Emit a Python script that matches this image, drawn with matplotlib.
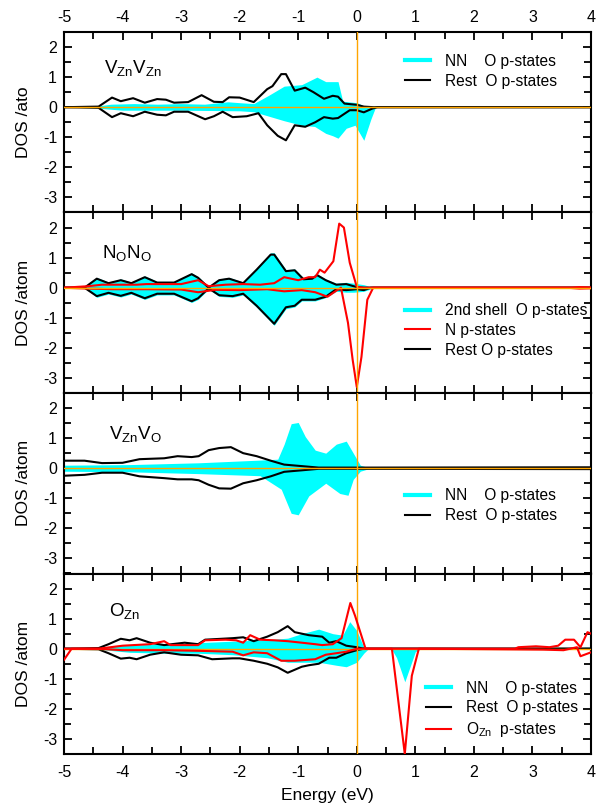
import matplotlib
matplotlib.use("Agg")
import matplotlib.pyplot as plt
from matplotlib.lines import Line2D
from matplotlib.ticker import MultipleLocator

plt.rcParams['font.family'] = ['Liberation Sans', 'DejaVu Sans']
plt.rcParams['mathtext.default'] = 'regular'
plt.rcParams['axes.unicode_minus'] = False

CYAN = '#00FFFF'
RED = '#FF0000'
ORANGE = '#FFA500'

# ---------------- panel 1 : VZn VZn ----------------
p1_nn_e_up = [-5, -4.5, -4.2, -3.8, -3.4, -3.0, -2.6, -2.2, -2.0, -1.76, -1.5, -1.24, -0.94,
              -0.68, -0.53, -0.32, -0.24, 0.0, 0.12, 0.25, 4]
p1_nn_up = [0, 0.02, 0.1, 0.12, 0.1, 0.12, 0.1, 0.18, 0.15, 0.12, 0.4, 0.7, 0.75,
            1.0, 0.85, 0.85, 0.2, 0.15, 0.05, 0, 0]
p1_nn_e_dn = [-5, -4.5, -4.0, -3.0, -2.0, -1.76, -1.5, -1.24, -0.94, -0.72, -0.53, -0.41,
              -0.32, -0.18, -0.03, 0.12, 0.24, 0.32, 4]
p1_nn_dn = [0, -0.02, -0.1, -0.1, -0.12, -0.15, -0.3, -0.45, -0.6, -0.64, -0.87, -0.95,
            -1.03, -0.7, -0.6, -1.1, -0.4, 0, 0]
p1_rest_e_up = [-5, -4.41, -4.18, -4.03, -3.82, -3.62, -3.41, -3.26, -3.12, -2.88, -2.65, -2.44,
                -2.29, -2.18, -2.0, -1.76, -1.53, -1.44, -1.29, -1.21, -1.06, -0.88, -0.74,
                -0.56, -0.41, -0.32, -0.21, 0.0, 0.12, 0.29, 4]
p1_rest_up = [0, 0.02, 0.32, 0.2, 0.3, 0.15, 0.27, 0.25, 0.15, 0.17, 0.4, 0.18,
              0.17, 0.33, 0.32, 0.17, 0.6, 0.7, 1.1, 1.1, 0.55, 0.65, 0.5,
              0.28, 0.38, 0.35, 0.12, 0.08, 0.02, 0, 0]
p1_rest_e_dn = [-5, -4.41, -4.18, -4.03, -3.82, -3.62, -3.41, -3.26, -3.12, -2.88, -2.59, -2.44,
                -2.29, -2.12, -1.88, -1.68, -1.53, -1.35, -1.21, -1.06, -0.88, -0.71, -0.56,
                -0.41, -0.32, -0.12, 0.0, 0.12, 0.26, 0.35, 4]
p1_rest_dn = [0, -0.02, -0.33, -0.2, -0.3, -0.15, -0.25, -0.27, -0.15, -0.15, -0.4, -0.3,
              -0.15, -0.33, -0.3, -0.2, -0.6, -0.95, -1.1, -0.6, -0.65, -0.5, -0.33,
              -0.38, -0.36, -0.1, -0.1, -0.17, -0.05, 0, 0]

# ---------------- panel 2 : NO NO ----------------
p2_rest_e_up = [-5, -4.65, -4.44, -4.24, -4.03, -3.85, -3.62, -3.41, -3.12, -2.82, -2.71, -2.53,
                -2.35, -2.18, -1.94, -1.71, -1.47, -1.41, -1.21, -1.06, -0.91, -0.76, -0.68,
                -0.53, -0.35, -0.18, 0.0, 0.12, 4]
p2_rest_up = [0, 0, 0.3, 0.15, 0.25, 0.15, 0.35, 0.17, 0.17, 0.45, 0.33, 0.0,
              0.25, 0.3, 0.15, 0.6, 1.1, 1.1, 0.55, 0.58, 0.28, 0.3, 0.42,
              0.25, 0.1, 0.12, 0.02, 0, 0]
p2_rest_e_dn = [-5, -4.65, -4.44, -4.24, -4.03, -3.85, -3.62, -3.41, -3.12, -2.82, -2.71, -2.53,
                -2.35, -2.12, -1.94, -1.71, -1.41, -1.21, -1.06, -0.94, -0.71, -0.53, -0.35,
                -0.18, 0.0, 0.12, 0.24, 4]
p2_rest_dn = [0, 0, -0.28, -0.17, -0.27, -0.17, -0.35, -0.2, -0.2, -0.45, -0.35, -0.02,
              -0.25, -0.28, -0.2, -0.6, -1.2, -0.65, -0.6, -0.4, -0.4, -0.3, -0.05,
              -0.08, -0.05, -0.08, 0, 0]
p2_shell_e_up = [-5, -4.65, -4.44, -4.24, -4.03, -3.85, -3.62, -3.41, -3.12, -2.82, -2.71, -2.53,
                 -2.35, -2.18, -1.94, -1.71, -1.47, -1.41, -1.21, -1.06, -0.91, -0.76, -0.68,
                 -0.53, -0.35, -0.18, -0.05, 0.12, 0.3, 4]
p2_shell_up = [0, 0, 0.34, 0.19, 0.29, 0.19, 0.39, 0.21, 0.21, 0.49, 0.37, 0.04,
               0.29, 0.34, 0.19, 0.65, 1.16, 1.16, 0.6, 0.62, 0.33, 0.34, 0.46,
               0.29, 0.15, 0.18, 0.15, 0.1, 0, 0]
p2_shell_e_dn = [-5, -4.65, -4.44, -4.24, -4.03, -3.85, -3.62, -3.41, -3.12, -2.82, -2.71, -2.53,
                 -2.35, -2.12, -1.94, -1.71, -1.41, -1.21, -1.06, -0.94, -0.71, -0.53, -0.35,
                 -0.18, -0.05, 0.12, 0.3, 4]
p2_shell_dn = [0, 0, -0.32, -0.21, -0.31, -0.21, -0.39, -0.24, -0.24, -0.49, -0.39, -0.05,
               -0.29, -0.32, -0.24, -0.65, -1.25, -0.7, -0.64, -0.44, -0.44, -0.33, -0.12,
               -0.15, -0.15, -0.12, 0, 0]
p2_n_e_up = [-5, -4.59, -4.35, -4.06, -3.76, -3.59, -3.29, -3.0, -2.71, -2.53, -2.24, -1.94,
             -1.65, -1.41, -1.24, -1.0, -0.82, -0.71, -0.63, -0.55, -0.4, -0.3, -0.22,
             -0.12, 0.0, 0.12, 3.6, 3.8, 4]
p2_n_up = [0, 0.05, 0.1, 0.1, 0.1, 0.12, 0.12, 0.12, 0.25, 0.05, 0.1, 0.12,
           0.1, 0.15, 0.35, 0.25, 0.35, 0.35, 0.6, 0.5, 0.88, 2.13, 2.0,
           0.83, 0.03, 0, 0, 0.02, 0.01]
p2_n_e_dn = [-5, -4.59, -4.18, -3.59, -3.0, -2.71, -2.41, -2.0, -1.53, -1.24, -0.94, -0.71,
             -0.5, -0.35, -0.27, -0.15, -0.07, 0.0, 0.08, 0.18, 0.28, 3.6, 3.8, 4]
p2_n_dn = [0, -0.03, -0.05, -0.05, -0.06, -0.15, -0.07, -0.08, -0.05, -0.12, -0.08, -0.15,
           -0.3, -0.1, 0.0, -1.17, -2.4, -3.3, -2.3, -0.4, 0, 0, -0.03, -0.02]

# ---------------- panel 3 : VZn VO ----------------
p3_nn_e_up = [-5, -3.88, -2.7, -1.65, -1.35, -1.24, -1.12, -1.0, -0.88, -0.71, -0.53,
              -0.35, -0.18, -0.06, 0.06, 0.2, 4]
p3_nn_up = [0.1, 0.12, 0.18, 0.27, 0.3, 0.8, 1.48, 1.52, 1.05, 0.6, 0.5,
            0.8, 0.9, 0.5, 0.1, 0.02, 0.02]
p3_nn_e_dn = [-5, -3.88, -2.7, -1.65, -1.29, -1.12, -1.0, -0.82, -0.53, -0.29, -0.15,
              -0.06, 0.06, 0.2, 4]
p3_nn_dn = [-0.1, -0.12, -0.18, -0.25, -0.7, -1.5, -1.55, -0.92, -0.5, -0.84, -0.9,
            -0.37, -0.1, -0.02, -0.02]
p3_rest_e = [-5.0, -4.65, -4.35, -4.0, -3.71, -3.29, -3.06, -2.82, -2.7, -2.53, -2.35, -2.15,
             -1.94, -1.71, -1.47, -1.24, -0.94, -0.65, 0.0, 4]
p3_rest_up = [0.25, 0.25, 0.17, 0.18, 0.3, 0.33, 0.4, 0.37, 0.4, 0.6, 0.67, 0.7,
              0.5, 0.4, 0.25, 0.12, 0.07, 0.02, 0.02, 0.03]
p3_rest_dn = [-0.25, -0.22, -0.15, -0.15, -0.27, -0.33, -0.37, -0.37, -0.4, -0.55, -0.67, -0.68,
              -0.5, -0.4, -0.27, -0.12, -0.07, -0.02, -0.02, -0.03]

# ---------------- panel 4 : OZn ----------------
p4_nn_e_up = [-5, -4.41, -4.0, -3.29, -2.71, -2.12, -1.53, -1.18, -0.94, -0.65, -0.41, -0.24,
              -0.12, 0.0, 0.12, 0.2, 3.7, 3.9, 4]
p4_nn_up = [0, 0.02, 0.12, 0.15, 0.2, 0.25, 0.3, 0.35, 0.5, 0.65, 0.5, 0.45,
            0.9, 0.6, 0.05, 0, 0, 0.05, 0.05]
p4_nn_e_dn = [-5, -4.41, -3.88, -3.29, -2.71, -2.12, -1.53, -1.18, -0.94, -0.65, -0.35, -0.18,
              0.0, 0.12, 0.2, 0.59, 0.68, 0.82, 1.0, 1.09, 4]
p4_nn_dn = [0, -0.02, -0.12, -0.15, -0.15, -0.2, -0.3, -0.45, -0.45, -0.45, -0.55, -0.6,
            -0.45, -0.15, 0, 0, -0.3, -1.1, -0.1, 0, 0]
p4_rest_e_up = [-5, -4.41, -4.24, -4.03, -3.88, -3.76, -3.53, -3.29, -2.94, -2.71, -2.59, -2.12,
                -1.94, -1.76, -1.53, -1.35, -1.18, -1.06, -0.82, -0.59, -0.47, -0.35, -0.18,
                0.0, 0.12, 4]
p4_rest_up = [0, 0.02, 0.15, 0.33, 0.28, 0.35, 0.2, 0.12, 0.2, 0.15, 0.3, 0.35,
              0.38, 0.25, 0.4, 0.55, 0.75, 0.55, 0.45, 0.4, 0.2, 0.25, 0.1,
              0.05, 0, 0]
p4_rest_e_dn = [-5, -4.41, -4.24, -4.03, -3.88, -3.76, -3.53, -3.29, -3.0, -2.71, -2.47, -2.12,
                -2.0, -1.76, -1.53, -1.35, -1.18, -0.94, -0.82, -0.65, -0.47, -0.35, -0.18,
                0.0, 0.12, 4]
p4_rest_dn = [0, -0.02, -0.15, -0.33, -0.3, -0.35, -0.2, -0.12, -0.2, -0.22, -0.35, -0.32,
              -0.32, -0.4, -0.5, -0.62, -0.8, -0.6, -0.55, -0.5, -0.3, -0.3, -0.15,
              -0.05, 0, 0]
p4_ozn_e_up = [-5, -4.41, -4.0, -3.53, -3.29, -3.18, -2.71, -2.59, -2.24, -2.06, -1.94, -1.82,
               -1.65, -1.41, -1.18, -0.94, -0.71, -0.59, -0.41, -0.26, -0.11, -0.03, 0.15,
               2.7, 2.76, 3.06, 3.29, 3.44, 3.56, 3.71, 3.82, 3.94, 4.0]
p4_ozn_up = [0, 0, 0.1, 0.15, 0.25, 0.12, 0.12, 0.28, 0.3, 0.28, 0.2, 0.45,
             0.3, 0.28, 0.25, 0.2, 0.15, 0.12, 0.15, 0.35, 1.52, 1.1, 0,
             0, 0.05, 0.08, 0.05, 0.1, 0.3, 0.3, 0.05, 0.55, 0.5]
p4_ozn_e_dn = [-5, -4.87, -4.41, -4.0, -3.29, -2.71, -2.12, -1.94, -1.76, -1.53, -1.29, -1.06,
               -0.71, -0.53, -0.35, -0.18, 0.0, 0.6, 0.82, 0.94, 1.06, 3.18, 3.53, 3.76,
               3.82, 4.0]
p4_ozn_dn = [-0.37, 0, 0, -0.05, -0.05, -0.07, -0.1, -0.22, -0.12, -0.15, -0.4, -0.4,
             -0.35, -0.2, -0.15, -0.1, 0, 0, -3.5, -0.9, 0, -0.03, -0.05, 0.05,
             -0.25, -0.12]

x_ticks = [-5, -4, -3, -2, -1, 0, 1, 2, 3, 4]
y_ticks = [-3, -2, -1, 0, 1, 2]

fig = plt.figure(figsize=(6.01, 8.05), dpi=100)
W, H = 601, 805
left_px, right_px, top_px, panel_px = 64, 591, 32, 180.5

axes = []
for i in range(4):
    y_top = top_px + panel_px * i
    ax = fig.add_axes([left_px / W, 1 - (y_top + panel_px) / H,
                       (right_px - left_px) / W, panel_px / H])
    ax.set_xlim(-5, 4)
    ax.set_ylim(-3.5, 2.5)
    ax.set_xticks(x_ticks)
    ax.set_yticks(y_ticks)
    ax.xaxis.set_minor_locator(MultipleLocator(0.5))
    ax.yaxis.set_minor_locator(MultipleLocator(0.5))
    ax.tick_params(which='both', direction='in', top=True, right=True,
                   width=1.3, labelsize=11.5)
    ax.tick_params(axis='y', pad=5)
    ax.tick_params(axis='x', pad=(5 if i == 0 else 8),
                   labelbottom=(i == 3), labeltop=(i == 0))
    ax.tick_params(which='major', length=6)
    ax.tick_params(which='minor', length=5)
    for s in ax.spines.values():
        s.set_linewidth(1.5)
    ax.axvline(0, color=ORANGE, lw=1, zorder=4)
    ax.axhline(0, color=ORANGE, lw=1, zorder=4)
    ax.set_ylabel('DOS /atom' if i else 'DOS /ato', fontsize=12.5)
    ax.yaxis.set_label_coords(-0.062, 0.5)
    axes.append(ax)

lw = 1.5
h_nn = Line2D([], [], color=CYAN, lw=3)
h_rest = Line2D([], [], color='black', lw=lw)
h_red = Line2D([], [], color=RED, lw=lw)
leg_kw = dict(frameon=False, fontsize=11.2, borderpad=0, borderaxespad=0,
              handlelength=1.6, handletextpad=1.0, labelspacing=0.3)

# panel 1
ax = axes[0]
ax.fill_between(p1_nn_e_up, p1_nn_up, 0, color=CYAN, lw=0, zorder=2)
ax.fill_between(p1_nn_e_dn, p1_nn_dn, 0, color=CYAN, lw=0, zorder=2)
ax.plot(p1_rest_e_up, p1_rest_up, color='black', lw=lw, zorder=3)
ax.plot(p1_rest_e_dn, p1_rest_dn, color='black', lw=lw, zorder=3)
ax.text(0.076, 0.772, 'V$_{Zn}$V$_{Zn}$', transform=ax.transAxes, fontsize=13.5)
ax.legend([h_nn, h_rest], ['NN    O p-states', 'Rest  O p-states'],
          loc='center left', bbox_to_anchor=(0.647, 0.783), **leg_kw)

# panel 2
ax = axes[1]
ax.fill_between(p2_shell_e_up, p2_shell_up, 0, color=CYAN, lw=0, zorder=2)
ax.fill_between(p2_shell_e_dn, p2_shell_dn, 0, color=CYAN, lw=0, zorder=2)
ax.plot(p2_rest_e_up, p2_rest_up, color='black', lw=lw, zorder=3)
ax.plot(p2_rest_e_dn, p2_rest_dn, color='black', lw=lw, zorder=3)
ax.plot(p2_n_e_up, p2_n_up, color=RED, lw=lw, zorder=3)
ax.plot(p2_n_e_dn, p2_n_dn, color=RED, lw=lw, zorder=3)
ax.text(0.072, 0.75, 'N$_{O}$N$_{O}$', transform=ax.transAxes, fontsize=13.5)
ax.legend([h_nn, h_red, h_rest], ['2nd shell  O p-states', 'N p-states', 'Rest O p-states'],
          loc='center left', bbox_to_anchor=(0.647, 0.347), **leg_kw)

# panel 3
ax = axes[2]
ax.fill_between(p3_nn_e_up, p3_nn_up, 0, color=CYAN, lw=0, zorder=2)
ax.fill_between(p3_nn_e_dn, p3_nn_dn, 0, color=CYAN, lw=0, zorder=2)
ax.plot(p3_rest_e, p3_rest_up, color='black', lw=lw, zorder=3)
ax.plot(p3_rest_e, p3_rest_dn, color='black', lw=lw, zorder=3)
ax.text(0.085, 0.744, 'V$_{Zn}$V$_{O}$', transform=ax.transAxes, fontsize=13.5)
ax.legend([h_nn, h_rest], ['NN    O p-states', 'Rest  O p-states'],
          loc='center left', bbox_to_anchor=(0.647, 0.375), **leg_kw)

# panel 4
ax = axes[3]
ax.fill_between(p4_nn_e_up, p4_nn_up, 0, color=CYAN, lw=0, zorder=2)
ax.fill_between(p4_nn_e_dn, p4_nn_dn, 0, color=CYAN, lw=0, zorder=2)
ax.plot(p4_rest_e_up, p4_rest_up, color='black', lw=lw, zorder=3)
ax.plot(p4_rest_e_dn, p4_rest_dn, color='black', lw=lw, zorder=3)
ax.plot(p4_ozn_e_up, p4_ozn_up, color=RED, lw=lw, zorder=5)
ax.plot(p4_ozn_e_dn, p4_ozn_dn, color=RED, lw=lw, zorder=5)
ax.text(0.085, 0.767, 'O$_{Zn}$', transform=ax.transAxes, fontsize=13.5)
ax.legend([h_nn, h_rest, h_red], ['NN    O p-states', 'Rest  O p-states', 'O$_{Zn}$  p-states'],
          loc='center left', bbox_to_anchor=(0.687, 0.244), **leg_kw)
ax.set_xlabel('Energy (eV)', fontsize=12.5, labelpad=6)

fig.savefig('out.png', dpi=100)
